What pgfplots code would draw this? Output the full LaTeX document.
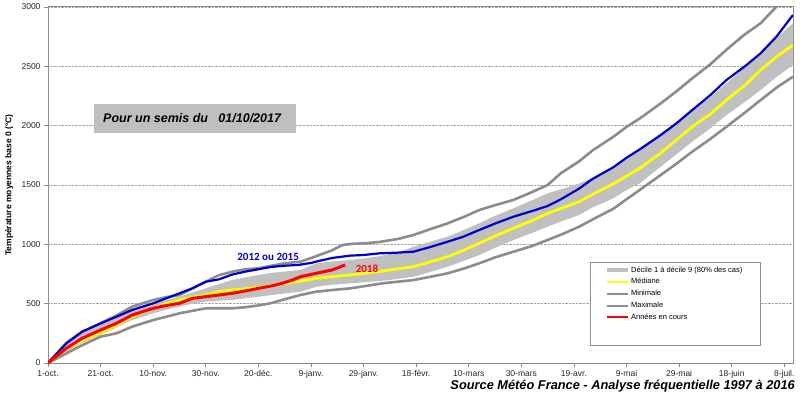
\documentclass[border=0pt]{standalone}
\usepackage{pgfplots}
\pgfplotsset{compat=1.18}
\usepgfplotslibrary{fillbetween}
\usepackage{fontspec}
\setmainfont{Liberation Sans}
\newfontfamily\calibri{Carlito}
\definecolor{bandgray}{HTML}{C0C0C0}
\definecolor{linegray}{HTML}{8C8C8C}
\definecolor{medyellow}{HTML}{FFFF00}
\definecolor{darkblue}{HTML}{0000CC}
\definecolor{redline}{HTML}{FF0000}
\definecolor{boxgray}{HTML}{BFBFBF}

\begin{document}
\begin{tikzpicture}
\begin{axis}[
  at={(48pt,36pt)}, anchor=south west,
  scale only axis, width=745pt, height=356pt,
  xmin=0, xmax=283.3, ymin=0, ymax=3000,
  xtick={0,20,...,280},
  xticklabels={1-oct.,21-oct.,10-nov.,30-nov.,20-déc.,9-janv.,29-janv.,18-févr.,10-mars,30-mars,19-avr.,9-mai,29-mai,18-juin,8-juil.},
  ytick={0,500,...,3000},
  /pgf/number format/1000 sep={},
  /pgf/number format/assume math mode=true,
  ymajorgrids,
  major grid style={gray!70, densely dotted, line width=0.8pt},
  tick pos=left, tick align=outside,
  major tick length=4pt,
  tick style={linegray, line width=0.8pt},
  axis line style={linegray, line width=1pt},
  ticklabel style={font=\fontsize{8.5}{10}\selectfont, text=black!85},
  ylabel={\bfseries Température moyennes base 0 (°C)},
  ylabel style={at={(axis description cs:-0.052,0.5)}, anchor=center, font=\fontsize{8.5}{10}\selectfont},
  legend style={at={(rel axis cs:0.7475,0.2790)}, anchor=north west, draw=none, fill=none,
    font=\fontsize{7.5}{9}\selectfont, inner sep=0pt, row sep=0pt,
    nodes={inner xsep=1pt, inner ysep=2.2pt, text height=6pt, text depth=1.5pt}},
  legend cell align=left,
  legend image code/.code={\draw[#1] (0pt,0pt) -- (21pt,0pt);},
]
% band
\addplot[name path=up, draw=none, forget plot] coordinates {(0,0)(7,160)(13,250)(20,320)(26,400)(32,461)(40,503)(45,530)(50,559)(55,595)(60,629)(65,665)(70,700)(75,720)(80,742)(85,760)(90,770)(96,784)(102,840)(108,855)(115,868)(120,880)(126,900)(133,930)(139,980)(145,1020)(152,1065)(158,1120)(164,1177)(170,1240)(177,1304)(184,1370)(190,1430)(196,1470)(202,1514)(207,1560)(215,1650)(220,1720)(225,1795)(233,1935)(239,2030)(245,2132)(252,2240)(258,2357)(265,2490)(271,2610)(277,2740)(283.3,2863)};
\addplot[name path=lo, draw=none, forget plot] coordinates {(0,0)(7,95)(13,170)(20,236)(26,300)(32,362)(40,419)(45,450)(50,475)(55,500)(60,517)(65,525)(70,531)(75,545)(80,559)(85,572)(90,587)(96,600)(102,643)(108,660)(115,671)(120,680)(126,690)(130,700)(139,727)(145,765)(152,812)(158,860)(164,910)(170,970)(177,1037)(184,1095)(190,1149)(196,1200)(202,1247)(207,1310)(215,1388)(220,1458)(225,1514)(233,1654)(239,1760)(245,1865)(252,1980)(258,2090)(265,2200)(271,2301)(277,2410)(283.3,2511)};
\addplot[fill=bandgray, draw=none, forget plot] fill between[of=up and lo];
% min
\addplot[linegray, line width=2.6pt, forget plot] coordinates {(0,0)(7,81)(13,150)(20,222)(26,250)(32,306)(40,362)(45,390)(50,419)(55,440)(60,461)(65,461)(70,461)(75,470)(80,485)(85,505)(89,531)(96,573)(102,601)(108,615)(115,629)(121,650)(127,671)(133,685)(139,699)(145,725)(152,756)(158,795)(164,840)(170,890)(177,938)(184,985)(190,1037)(196,1090)(202,1149)(208,1220)(215,1300)(220,1380)(225,1458)(233,1584)(239,1680)(245,1781)(252,1890)(258,1991)(265,2110)(271,2216)(277,2320)(283.3,2413)};
% max
\addplot[linegray, line width=2.6pt, forget plot] coordinates {(0,0)(7,170)(13,264)(20,334)(26,400)(32,475)(40,531)(45,555)(50,573)(55,630)(60,685)(65,740)(70,769)(75,790)(80,798)(85,820)(90,840)(96,854)(102,900)(108,950)(112,994)(116,1005)(121,1009)(126,1020)(133,1045)(139,1079)(145,1125)(152,1177)(158,1230)(164,1289)(170,1330)(177,1374)(184,1440)(190,1500)(195,1599)(202,1700)(207,1790)(215,1907)(220,1990)(225,2060)(233,2188)(239,2290)(245,2399)(252,2520)(258,2640)(265,2770)(271,2863)(277,3003)(283.3,3120)};
% median
\addplot[medyellow, line width=2.8pt, forget plot] coordinates {(0,0)(7,120)(13,190)(20,255)(26,320)(32,390)(40,461)(45,500)(50,531)(55,555)(60,573)(65,600)(70,615)(75,625)(80,638)(85,655)(90,670)(96,690)(102,714)(108,728)(115,742)(120,755)(126,770)(130,784)(139,812)(145,850)(152,896)(158,950)(164,1009)(170,1070)(177,1135)(184,1200)(190,1261)(196,1310)(202,1360)(207,1420)(215,1510)(220,1575)(225,1641)(233,1770)(239,1880)(245,1991)(252,2100)(258,2216)(265,2340)(271,2469)(277,2580)(283.3,2680)};
% 2012 ou 2015
\addplot[darkblue, line width=2.2pt, forget plot] coordinates {(0,0)(7,166)(13,264)(20,334)(26,390)(32,447)(40,503)(45,545)(50,587)(55,630)(60,685)(65,705)(70,745)(75,770)(80,790)(85,810)(90,820)(95,826)(100,843)(103,860)(108,885)(115,905)(120,910)(126,924)(133,930)(139,938)(145,975)(152,1022)(158,1065)(164,1121)(170,1175)(177,1233)(184,1280)(190,1323)(195,1379)(202,1470)(207,1550)(215,1650)(220,1730)(225,1800)(233,1921)(239,2020)(245,2132)(252,2260)(258,2385)(265,2500)(271,2610)(277,2750)(283.3,2933)};
% current year
\addplot[redline, line width=3pt, forget plot] coordinates {(0,0)(7,124)(13,208)(20,278)(26,334)(32,404)(40,461)(45,485)(50,503)(55,545)(60,559)(65,573)(70,587)(77,615)(80,629)(85,650)(89,671)(93,700)(96,727)(102,756)(108,784)(113,826)};

\draw[linegray, fill=white, line width=0.8pt] (rel axis cs:0.7275,0.2837) rectangle (rel axis cs:0.9557,0.0506);

\addlegendimage{bandgray, line width=4pt}\addlegendentry{Décile 1 à décile 9 (80\% des cas)}
\addlegendimage{medyellow, line width=2pt}\addlegendentry{Médiane}
\addlegendimage{linegray, line width=2pt}\addlegendentry{Minimale}
\addlegendimage{linegray, line width=2pt}\addlegendentry{Maximale}
\addlegendimage{redline, line width=2pt}\addlegendentry{Années en cours}

\node[fill=boxgray, minimum width=202pt, minimum height=29pt, inner sep=0pt] at (rel axis cs:0.1973,0.6868) {};
\node[anchor=west, inner sep=0pt, font=\fontsize{12.5}{14}\selectfont\bfseries\itshape] at (axis description cs:0.0738,0.6868) {Pour un semis du\ \ \ 01/10/2017};
\node[text=darkblue, font=\calibri\fontsize{11}{13}\selectfont\bfseries] at (axis cs:83.7,893) {2012 ou 2015};
\node[text=redline, font=\calibri\fontsize{11}{13}\selectfont\bfseries] at (axis cs:121.3,792) {2018};
\end{axis}
\node[anchor=east, inner sep=0pt, font=\fontsize{12.8}{14}\selectfont\bfseries\itshape] at (795pt,13pt) {Source Météo France - Analyse fréquentielle 1997 à 2016};
\pgfresetboundingbox
\useasboundingbox (0,0) rectangle (800pt,399pt);
\end{tikzpicture}
\end{document}
